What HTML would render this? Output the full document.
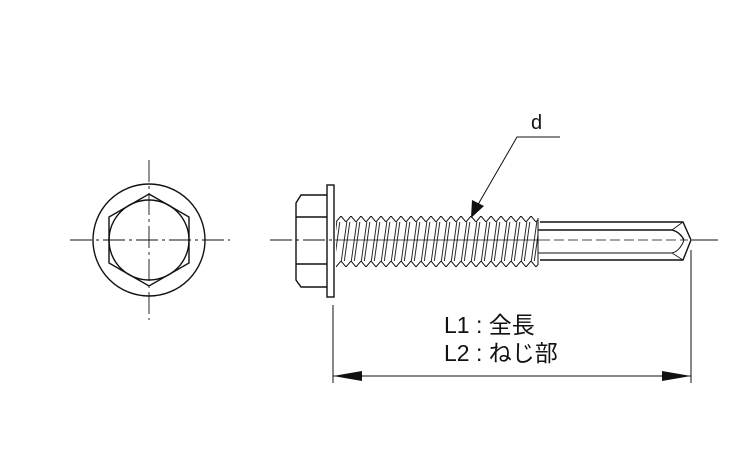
<!DOCTYPE html>
<html><head><meta charset="utf-8"><style>
html,body{margin:0;padding:0;background:#fff;width:750px;height:450px;overflow:hidden}
svg{display:block}
text{font-family:"Liberation Sans","Noto Sans CJK JP",sans-serif;fill:#111}
</style></head><body>
<svg width="750" height="450" viewBox="0 0 750 450" xmlns="http://www.w3.org/2000/svg">
<defs>
<pattern id="zt" patternUnits="userSpaceOnUse" x="336" y="216" width="10" height="6">
<path d="M0,6 L5,0 L10,6" stroke="#111" stroke-width="1" fill="none"/>
</pattern>
<pattern id="zb" patternUnits="userSpaceOnUse" x="341" y="261" width="10" height="6">
<path d="M0,0 L5,6 L10,0" stroke="#111" stroke-width="1" fill="none"/>
</pattern>
<pattern id="sl" patternUnits="userSpaceOnUse" x="336" y="216" width="10" height="50" patternTransform="skewX(-8)">
<line x1="2" y1="0" x2="2" y2="50" stroke="#111" stroke-width="0.9"/>
<line x1="5" y1="0" x2="5" y2="50" stroke="#111" stroke-width="0.9"/>
</pattern>
</defs>
<g stroke="#111" fill="none" stroke-width="1.4">
<circle cx="149" cy="240" r="56"/>
<circle cx="149" cy="240" r="40"/>
<polygon points="149,194 189,217 189,263 149,286 109,263 109,217"/>
<g stroke-width="0.9" stroke-dasharray="22,4,3,4">
<line x1="70" y1="240" x2="230" y2="240"/>
<line x1="149" y1="160" x2="149" y2="320"/>
</g>
<path d="M327,195 H301 L296,203 V280 L301,287 H327"/>
<line x1="296" y1="217" x2="327" y2="217"/>
<line x1="296" y1="264" x2="327" y2="264"/>
<rect x="327" y="185" width="7" height="112"/>
</g>
<rect x="336" y="222" width="202" height="39" fill="url(#sl)"/>
<rect x="336" y="216" width="202" height="6" fill="url(#zt)"/>
<rect x="336" y="261" width="202" height="6" fill="url(#zb)"/>
<g stroke="#111" fill="none" stroke-width="1.4">
<line x1="538" y1="218" x2="538" y2="265" stroke-width="1"/>
<path d="M540,222 H683 L691,240 L683,260 H540"/>
<path d="M538,230 H672 Q680,232 684,240"/>
<path d="M538,253 H672 Q680,251 684,240" stroke-width="1"/>
<line x1="672" y1="230" x2="683" y2="222" stroke-width="0.8"/>
<line x1="672" y1="253" x2="683" y2="260" stroke-width="0.8"/>
<line x1="270" y1="240" x2="335" y2="240" stroke-width="0.9" stroke-dasharray="22,4,3,4"/>
<line x1="335" y1="240" x2="540" y2="240" stroke-width="0.7"/>
<line x1="540" y1="240" x2="688" y2="240" stroke-width="0.8" stroke-dasharray="10,4"/>
<line x1="692" y1="240" x2="718" y2="240" stroke-width="0.9"/>
<line x1="333" y1="305" x2="333" y2="383" stroke-width="1"/>
<line x1="691" y1="250" x2="691" y2="383" stroke-width="1"/>
<line x1="333" y1="376" x2="691" y2="376" stroke-width="1"/>
<polyline points="560,137 517,137 476,208" stroke-width="1"/>
</g>
<polygon points="333,376 362,371 362,381" fill="#111"/>
<polygon points="691,376 662,371 662,381" fill="#111"/>
<polygon points="471,218 472,200 484,206" fill="#111"/>
<text x="531" y="129" font-size="20">d</text>
<text x="444" y="333" font-size="23">L1 : 全長</text>
<text x="444" y="361" font-size="23">L2 : ねじ部</text>
</svg>
</body></html>
